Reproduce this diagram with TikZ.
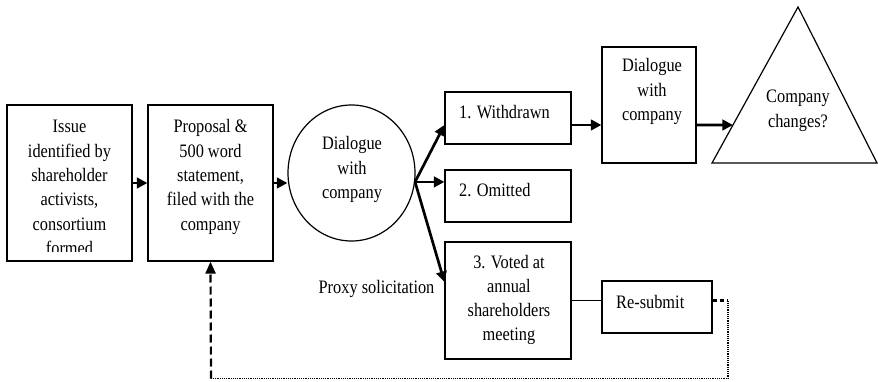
\documentclass[tikz,border=0pt]{standalone}
\usepackage{fontspec}
\setmainfont{Liberation Serif}[FakeStretch=0.86]
\usetikzlibrary{arrows.meta,shapes.geometric,calc}
\newcommand\ctrtext[2]{\parbox[t]{#1}{\centering #2}}
\begin{document}
\begin{tikzpicture}[x=1pt,y=-1pt,
  box/.style={draw,line width=1.2pt,inner sep=0pt},
  txt/.style={anchor=base,inner sep=0pt,font=\fontsize{19}{24.3}\selectfont},
  ltxt/.style={anchor=base west,inner sep=0pt,font=\fontsize{19}{24.3}\selectfont},
  arr/.style={line width=2.7pt,-{Triangle[length=10.5pt,width=10.5pt]}},
  dsh/.style={line width=2.2pt,dash pattern=on 8pt off 4pt},
  dts/.style={line width=1.4pt,dash pattern=on 1.2pt off 1pt}]
\useasboundingbox (0,0) rectangle (878,382);

% boxes
\node[box,minimum width=125pt,minimum height=156pt] (b1) at (69.5,183) {};
\node[box,minimum width=125pt,minimum height=156pt] (b2) at (210.5,183) {};
\node[box,ellipse,minimum width=127pt,minimum height=136pt] (c) at (351.5,173) {};
\node[box,minimum width=126pt,minimum height=52pt] (w) at (508,118) {};
\node[box,minimum width=126pt,minimum height=52pt] (o) at (508,196) {};
\node[box,minimum width=126pt,minimum height=117pt] (v) at (508,300.5) {};
\node[box,minimum width=94pt,minimum height=116pt] (d2) at (649,105) {};
\node[box,minimum width=110pt,minimum height=52pt] (rs) at (657,307) {};
\coordinate (tl) at (712,163);
\coordinate (tp) at (798,7);
\coordinate (tr) at (877,163);
\draw[line width=1.2pt,line join=miter] (tl) -- (tp) -- (tr) -- cycle;
\coordinate (tin) at ($(tl)!0.2436!(tp)$);

% texts
\begin{scope}
\clip (0,100) rectangle (140,251.5);
\node[txt] (b1t) at (69.5,133) {\ctrtext{120pt}{Issue\\identified by\\shareholder\\activists,\\consortium\\formed}};
\end{scope}
\node[txt] (b2t) at (210.5,133) {\ctrtext{120pt}{Proposal \&\\500 word\\statement,\\filed with the\\company}};
\node[txt] (ct) at (352,150) {\ctrtext{110pt}{Dialogue\\with\\company}};
\node[ltxt] (wt) at (459,118.5) {1. Withdrawn};
\node[ltxt] (ot) at (459,197) {2. Omitted};
\node[txt] (vt) at (509,268) {\ctrtext{120pt}{3. Voted at\\annual\\shareholders\\meeting}};
\node[txt] (d2t) at (652,72) {\ctrtext{92pt}{Dialogue\\with\\company}};
\node[ltxt] (rst) at (616,308) {Re-submit};
\node[txt] (tt) at (798,103) {\ctrtext{100pt}{Company\\changes?}};
\node[txt] (px) at (376.5,293) {Proxy solicitation};

% connectors
\draw[arr] (b1.east) -- (b2.west);
\draw[arr] (b2.east) -- (b2.east -| c.west);
\draw[arr] (c.-8) -- ([yshift=-7pt]w.west);
\draw[arr] (c.-8) -- (c.-8 -| o.west);
\draw[arr] (c.-8) -- ([yshift=18.5pt]v.west);
\draw[arr] ([yshift=-7pt]w.east) -- ([yshift=-7pt]w.east -| d2.west);
\draw[arr] ([yshift=-7pt]w.east -| d2.east) -- (tin);
\draw[line width=1.2pt] (v.east) -- (v.east -| rs.west);
\coordinate (q1) at (728,300.5);
\coordinate (q2) at (728,378.5);
\coordinate (q3) at (211,378.5);
\draw[line width=2.2pt,dash pattern=on 4pt off 3pt] ([yshift=6.5pt]rs.east) -- (q1);
\draw[dts] (q1) -- (q2) -- (q3);
\draw[dsh,-{Triangle[length=12pt,width=10pt]}] (q3) -- (b2.south);
\end{tikzpicture}
\end{document}
